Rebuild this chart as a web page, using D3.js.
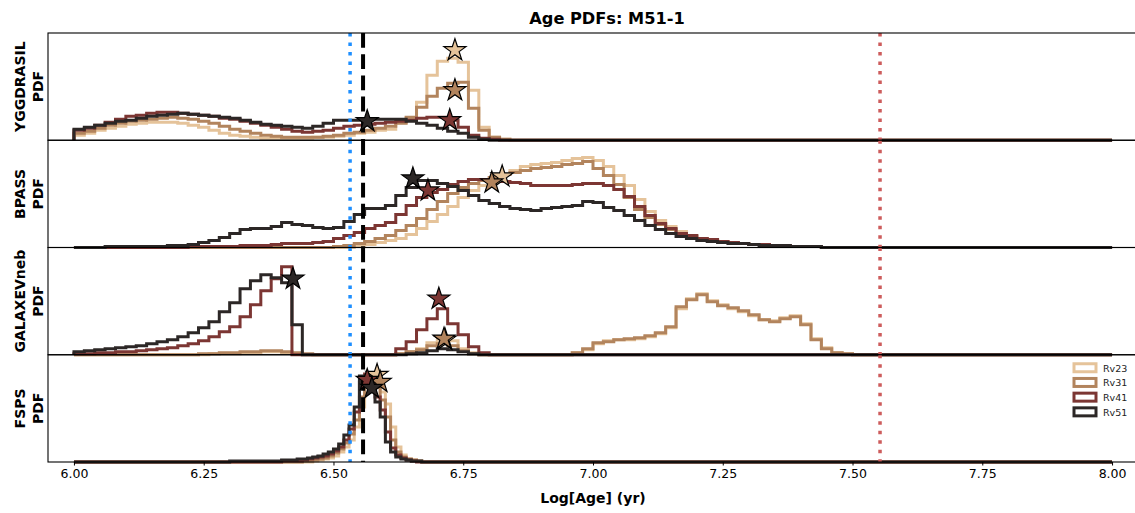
<!DOCTYPE html>
<html>
<head>
<meta charset="utf-8">
<script src="https://cdn.jsdelivr.net/npm/d3@7"></script>
<style>
  body { margin: 0; background: #fff; }
  svg { display: block; font-family: "DejaVu Sans", sans-serif; }
</style>
</head>
<body>
<div id="wrapper"></div>
<script>
// ---------- data ----------
const panelNames = ["YGGDRASIL", "BPASS", "GALAXEVneb", "FSPS"]
const seriesNames = ["Rv23", "Rv31", "Rv41", "Rv51"]
const binWidths = [0.02, 0.02, 0.02, 0.01]
const binStarts = [6.00, 6.00, 6.00, 6.30]
const xTicks = [6.00, 6.25, 6.50, 6.75, 7.00, 7.25, 7.50, 7.75, 8.00]
const refAges = [6.532, 6.557, 7.553]   // blue dotted, black dashed, red dotted

// PDF heights (arbitrary units) per bin, starting at binStarts[panel]
const yggRv23 = [5,7,10,12,14,16,17,18,18,18,17,15,13,10,7,5,4,3,2,2,2,2,2,3,3,4,5,7,8,10,11,18,22,38,65,79,82,78,50,13,3,1]
const yggRv31 = [7,9,12,15,17,19,20,21,22,23,22,21,19,17,14,11,9,7,5,4,3,3,3,3,4,5,7,8,10,12,14,17,23,33,44,52,57,58,32,10,3,1]
const yggRv41 = [10,12,15,18,21,24,25,27,28,28,27,26,25,24,22,21,19,17,15,13,11,9,8,9,10,12,14,15,16,17,18,19,20,22,23,23,20,13,5,2,1]
const yggRv51 = [11,13,15,17,19,20,22,24,25,26,27,26,25,24,23,22,20,18,16,15,14,13,12,14,17,20,20,20,21,21,21,21,19,17,15,12,9,7,3,1]

const bpassRv23 = [0,0,0,0,0,0,0,0,0,0,0,0,0,0,0,0,0,0,0,0,0,0,0,0,0,0,0,1,3,5,7,9,13,19,26,33,41,50,57,62,68,73,77,81,83,84,85,87,89,90,87,81,72,62,48,36,27,21,16,12,9,7,6,5,4,3,3,2,2,1,1,1]
const bpassRv31 = [0,0,0,0,0,0,0,0,0,0,0,0,0,0,0,0,0,0,0,0,0,0,0,0,0,1,2,4,6,9,12,17,22,29,38,46,54,60,64,67,70,73,75,77,79,80,81,83,84,86,79,72,63,50,38,30,23,18,14,11,9,7,6,5,4,3,3,2,2,1,1,1]
const bpassRv41 = [0,0,0,0,0,0,0,0,0,0,0,1,1,1,1,1,2,2,2,3,4,4,4,5,6,9,12,15,19,22,25,33,42,50,55,58,63,66,68,68,67,66,65,64,62,62,62,62,63,64,64,62,58,51,41,32,24,19,14,12,9,8,6,5,4,3,3,2,2,1,1,1]
const bpassRv51 = [0,0,0,1,1,1,1,1,1,2,2,3,5,7,10,14,18,19,19,21,25,23,22,20,19,20,26,33,39,39,42,52,60,67,67,64,61,57,52,47,44,41,39,38,37,39,40,41,42,46,45,40,37,32,27,22,18,14,11,9,7,6,5,4,4,3,2,2,2,1,1,1]

const galRv23 = [0,0,0,0,0,0,0,0,0,0,0,0,0,1,1,1,2,2,3,3,2,1,0,0,0,0,0,0,0,0,0,1,3,6,12,17,14,6,2,0,0,0,0,0,0,0,0,0,2,5,11,14,15,15,16,18,21,27,46,56,61,54,50,46,43,39,35,34,37,39,31,16,7,2,1]
const galRv31 = [0,0,0,0,0,0,0,0,0,0,0,0,1,1,2,2,3,3,4,4,3,2,1,0,0,0,0,0,0,0,0,1,3,5,9,11,9,4,1,0,0,0,0,0,0,0,0,0,2,6,12,13,15,16,17,19,22,28,48,55,60,53,49,47,44,40,35,33,36,38,30,15,6,2,1]
const galRv41 = [1,1,2,2,3,3,4,5,6,7,9,11,14,18,23,28,38,50,64,76,88,0,0,0,0,0,0,0,0,0,0,6,13,25,36,46,31,20,8,2]
const galRv51 = [3,4,5,6,7,8,9,11,13,15,18,22,27,33,43,52,66,74,80,77,72,30,0,0,0,0,0,0,0,0,0,0,1,2,4,6,5,3,1]

const fspsRv23 = [0,0,0,0,0,0,0,0,0,0,0,0,0,0,0,0,1,2,3,4,6,10,15,22,35,55,75,88,85,70,58,35,15,7,3,2,1]
const fspsRv31 = [0,0,0,0,0,0,0,0,0,0,0,0,0,0,1,1,2,3,4,6,9,13,19,28,42,65,82,85,75,62,45,22,10,5,3,2,1]
const fspsRv41 = [0,0,0,0,0,0,0,0,0,0,1,1,1,1,2,3,4,5,6,8,11,15,22,33,50,80,88,78,65,52,30,14,7,4,2,1]
const fspsRv51 = [1,1,1,1,1,1,1,1,1,1,2,2,2,3,3,4,5,6,8,10,13,18,27,37,55,86,86,72,60,45,20,10,5,3,2,1,1]

// peak markers (stars): log age and PDF height, per panel, in series order
const yggStarAge = [6.734, 6.734, 6.724, 6.565]
const yggStarPdf = [90, 50, 20, 19]
const bpassStarAge = [6.825, 6.805, 6.682, 6.653]
const bpassStarPdf = [71, 65, 57, 69]
const galStarAge = [6.715, 6.713, 6.703, 6.422]
const galStarPdf = [15, 16, 56, 76]
const fspsStarAge = [6.584, 6.590, 6.565, 6.574]
const fspsStarPdf = [87, 80, 82, 74]

const panelSeries = [
  [yggRv23, yggRv31, yggRv41, yggRv51],
  [bpassRv23, bpassRv31, bpassRv41, bpassRv51],
  [galRv23, galRv31, galRv41, galRv51],
  [fspsRv23, fspsRv31, fspsRv41, fspsRv51],
]
const panelStarAge = [yggStarAge, bpassStarAge, galStarAge, fspsStarAge]
const panelStarPdf = [yggStarPdf, bpassStarPdf, galStarPdf, fspsStarPdf]

// ---------- dimensions ----------
const colors = ["#e5c39a", "#b2845d", "#7c3633", "#2c2726"]
let dimensions = {
  width: 1135,
  height: 513,
  margin: { top: 33, left: 48 },
  plotWidth: 1090,
  panelHeight: 107.25,
}

const svg = d3.select("#wrapper")
  .append("svg")
    .attr("width", dimensions.width)
    .attr("height", dimensions.height)

// ---------- scales ----------
const xScale = d3.scaleLinear()
  .domain([5.95, 8.05])
  .range([dimensions.margin.left, dimensions.margin.left + dimensions.plotWidth])

const stepLine = (yScale) => d3.line()
  .x(d => xScale(d[0]))
  .y(d => yScale(d[1]))
  .curve(d3.curveStepAfter)

// ---------- panels ----------
panelNames.forEach((name, p) => {
  const top = dimensions.margin.top + p * dimensions.panelHeight
  const bottom = top + dimensions.panelHeight
  const yScale = d3.scaleLinear().domain([0, 107.25]).range([bottom, top])
  const g = svg.append("g")

  const bw = binWidths[p]
  const nBins = Math.round((8 - 6) / bw)
  const offset = Math.round((binStarts[p] - 6) / bw)

  panelSeries[p].forEach((vals, s) => {
    const full = new Array(nBins).fill(0)
    vals.forEach((v, i) => { full[offset + i] = v })
    const pts = [[6, 0], ...full.map((v, i) => [6 + i * bw, v]), [8, 0]]
    g.append("path")
      .attr("d", stepLine(yScale)(pts))
      .attr("fill", "none")
      .attr("stroke", colors[s])
      .attr("stroke-width", 3)
      .attr("stroke-linejoin", "miter")
  })

  // reference lines
  const refStyle = [
    { color: "#1e8fff", dash: "3.5,6", w: 3.5 },
    { color: "#000000", dash: "14.8,6.4", w: 4 },
    { color: "#cd5c5c", dash: "3.5,6", w: 3.5 },
  ]
  refAges.forEach((a, k) => {
    g.append("line")
      .attr("x1", xScale(a)).attr("x2", xScale(a))
      .attr("y1", top).attr("y2", bottom)
      .attr("stroke", refStyle[k].color)
      .attr("stroke-width", refStyle[k].w)
      .attr("stroke-dasharray", refStyle[k].dash)
  })

  // stars
  const star = d3.symbol().type(d3.symbolStar).size(150)
  panelStarAge[p].forEach((a, s) => {
    g.append("path")
      .attr("d", star())
      .attr("transform", `translate(${xScale(a)},${yScale(panelStarPdf[p][s])})`)
      .attr("fill", colors[s])
      .attr("stroke", "#000")
      .attr("stroke-width", 1.2)
      .attr("stroke-linejoin", "miter")
  })

  // frame
  g.append("rect")
    .attr("x", dimensions.margin.left).attr("y", top)
    .attr("width", dimensions.plotWidth).attr("height", dimensions.panelHeight)
    .attr("fill", "none").attr("stroke", "#000").attr("stroke-width", 1.1)

  // y label
  const yl = svg.append("text")
    .attr("transform", `translate(0,${(top + bottom) / 2}) rotate(-90)`)
    .attr("text-anchor", "middle")
    .attr("font-size", 14)
    .attr("font-weight", "bold")
  yl.append("tspan").attr("x", 0).attr("y", 25).text(name)
  yl.append("tspan").attr("x", 0).attr("y", 43).text("PDF")
})

// ---------- x axis ----------
const axisY = dimensions.margin.top + 4 * dimensions.panelHeight
const xAxis = svg.append("g")
  .attr("transform", `translate(0,${axisY})`)
  .call(d3.axisBottom(xScale).tickValues(xTicks).tickFormat(d3.format(".2f")).tickSizeOuter(0).tickSize(3.5).tickPadding(4))
xAxis.select(".domain").remove()
xAxis.selectAll("text").attr("font-size", 12.5).attr("font-family", "DejaVu Sans").attr("fill", "#000")
xAxis.selectAll("line").attr("stroke", "#000").attr("stroke-width", 1)

svg.append("text")
  .attr("x", (dimensions.margin.left + dimensions.margin.left + dimensions.plotWidth) / 2)
  .attr("y", 503)
  .attr("text-anchor", "middle")
  .attr("font-size", 14)
  .attr("font-weight", "bold")
  .text("Log[Age] (yr)")

svg.append("text")
  .attr("x", 607)
  .attr("y", 24)
  .attr("text-anchor", "middle")
  .attr("font-size", 16.2)
  .attr("font-weight", "bold")
  .text("Age PDFs: M51-1")

// ---------- legend ----------
const legendTop = dimensions.margin.top + 3 * dimensions.panelHeight + 9
seriesNames.forEach((n, s) => {
  const y = legendTop + s * 14.7
  svg.append("rect")
    .attr("x", 1074).attr("y", y)
    .attr("width", 22).attr("height", 8)
    .attr("fill", "#fff")
    .attr("stroke", colors[s]).attr("stroke-width", 3)
  svg.append("text")
    .attr("x", 1103).attr("y", y + 8)
    .attr("font-size", 9.5)
    .attr("fill", "#222")
    .text(n)
})
</script>
</body>
</html>
